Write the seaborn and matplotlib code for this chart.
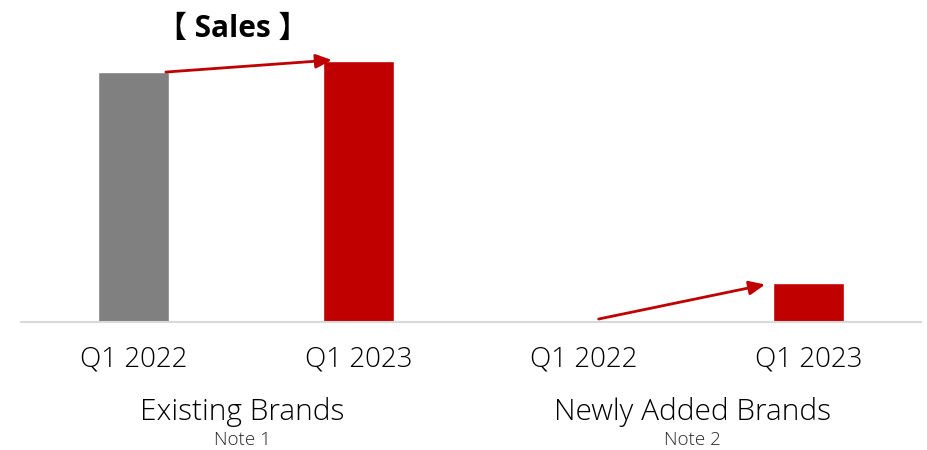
import matplotlib
matplotlib.use("Agg")
import matplotlib.pyplot as plt
import pandas as pd
import seaborn as sns

# Sales index per brand group and period
groups = ["Existing Brands", "Existing Brands", "Newly Added Brands", "Newly Added Brands"]
periods = ["Q1 2022", "Q1 2023", "Q1 2022", "Q1 2023"]
sales = [100.0, 104.4, 0.0, 15.6]
group_names = ["Existing Brands", "Newly Added Brands"]
group_notes = ["Note 1", "Note 2"]
bar_colors = ["#808080", "#C00000", "#C00000", "#C00000"]

df = pd.DataFrame({"group": groups, "period": periods, "sales": sales})
df["slot"] = [f"{g}|{p}" for g, p in zip(groups, periods)]

sns.set_theme(style="white")
plt.rcParams["font.family"] = ["Open Sans", "Noto Sans CJK JP", "DejaVu Sans"]

fig = plt.figure(figsize=(9.28, 4.5), dpi=100)
ax = fig.add_axes([0.0226, 0.2844, 0.97, 0.6044])

sns.barplot(data=df, x="slot", y="sales", hue="slot", palette=bar_colors,
            width=0.316, saturation=1, legend=False, ax=ax)

ax.set_xlim(-0.5, 3.5)
ax.set_ylim(0, 108.8)
ax.set_xlabel("")
ax.set_ylabel("")
ax.set_yticks([])
for side in ["top", "right", "left"]:
    ax.spines[side].set_visible(False)
ax.spines["bottom"].set_color("#D9D9D9")
ax.spines["bottom"].set_linewidth(1.5)

ax.set_xticks(range(len(periods)))
ax.set_xticklabels(periods, fontsize=20, color="#000000", fontweight="light")
ax.tick_params(axis="x", length=0, pad=17)

# Growth arrows between the two periods of each group
arrow_style = dict(arrowstyle="-|>,head_length=0.8,head_width=0.35",
                   color="#C00000", lw=2, shrinkA=0, shrinkB=0)
ax.annotate("", xy=(1 - 0.118, sales[1] + 0.4), xytext=(0 + 0.144, sales[0]),
            arrowprops=arrow_style)
ax.annotate("", xy=(3 - 0.193, sales[3] - 0.6), xytext=(2 + 0.067, sales[2] + 1.2),
            arrowprops=arrow_style)

# Group labels with notes below the period ticks
for i, (g, note) in enumerate(zip(group_names, group_notes)):
    xc = 2 * i + 0.5
    ax.text(xc - 0.015, -0.33, g, transform=ax.get_xaxis_transform(), ha="center",
            va="center", fontsize=21.5, color="#000000", fontweight="light")
    ax.text(xc - 0.015, -0.451, note, transform=ax.get_xaxis_transform(), ha="center",
            va="baseline", fontsize=13.5, color="#262626", fontweight="light")

fig.text(233 / 928, 1 - 29 / 450, "【 Sales 】", ha="center", va="center",
         fontsize=21.5, fontweight="bold", color="#000000")

fig.savefig("out.png", dpi=100)
